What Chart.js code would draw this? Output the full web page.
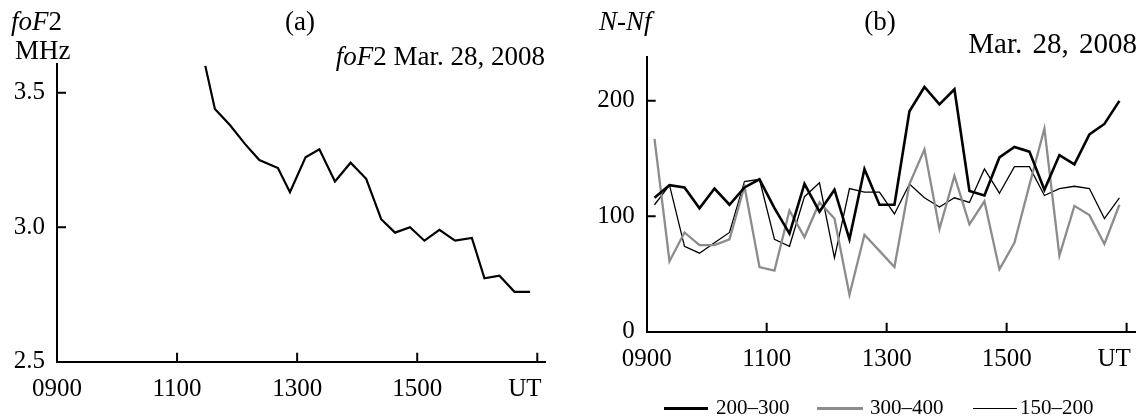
<!DOCTYPE html>
<html>
<head>
<meta charset="utf-8">
<script src="https://cdn.jsdelivr.net/npm/chart.js@4"></script>
<style>
  body { margin: 0; background: #fff; }
  #page { position: relative; width: 1140px; height: 419px; overflow: hidden;
          font-family: 'Liberation Serif', 'Times New Roman', serif; color: #000; }
  .box { position: absolute; top: 0; width: 570px; height: 419px; }
  .lbl { position: absolute; font-size: 27px; line-height: 27px; white-space: nowrap; }
  .ctr { transform: translateX(-50%); }
  .sw { position: absolute; }
  .lg { position: absolute; font-size: 21px; line-height: 21px; white-space: nowrap; }
</style>
</head>
<body>
<div id="page">
  <div class="box" style="left:0"><canvas id="chartA"></canvas></div>
  <div class="box" style="left:570px"><canvas id="chartB"></canvas></div>

  <div class="lbl" style="left:11px; top:8px"><i>foF</i>2</div>
  <div class="lbl" style="left:15px; top:37px">MHz</div>
  <div class="lbl ctr" style="left:300px; top:8px">(a)</div>
  <div class="lbl" style="right:595px; top:43px"><i>foF</i>2 Mar. 28, 2008</div>

  <div class="lbl" style="left:599px; top:8px"><i>N</i>-<i>Nf</i></div>
  <div class="lbl ctr" style="left:880px; top:8px">(b)</div>
  <div class="lbl" style="right:3px; top:29px; font-size:29px; line-height:29px; word-spacing:3px">Mar. 28, 2008</div>

  <div class="sw" style="left:664px; width:44px; top:406.5px; height:3px; background:#000"></div>
  <div class="lg" style="left:716px; top:397px">200–300</div>
  <div class="sw" style="left:817px; width:46px; top:407px; height:2.5px; background:#8c8c8c"></div>
  <div class="lg" style="left:870px; top:397px">300–400</div>
  <div class="sw" style="left:973px; width:44px; top:407.5px; height:1.5px; background:#000"></div>
  <div class="lg" style="left:1020px; top:397px">150–200</div>
</div>

<script>
// (a) foF2, MHz
const fofTimes = [11.47, 11.63, 11.88, 12.13, 12.37, 12.68, 12.88, 13.14, 13.37, 13.63, 13.89, 14.15,
                  14.40, 14.63, 14.88, 15.12, 15.37, 15.63, 15.91, 16.12, 16.37, 16.62, 16.88];
const fofValues = [3.60, 3.44, 3.38, 3.31, 3.25, 3.22, 3.13, 3.26, 3.29, 3.17, 3.24, 3.18,
                   3.03, 2.98, 3.00, 2.95, 2.99, 2.95, 2.96, 2.81, 2.82, 2.76, 2.76];

// (b) N-Nf
const nTimes = [9.13, 9.38, 9.63, 9.88, 10.13, 10.38, 10.63, 10.88, 11.13, 11.38, 11.63, 11.88,
                12.13, 12.38, 12.63, 12.88, 13.13, 13.38, 13.63, 13.88, 14.13, 14.38, 14.63, 14.88,
                15.13, 15.38, 15.63, 15.88, 16.13, 16.38, 16.63, 16.88];
const n200_300 = [116, 127, 125, 107, 124, 110, 125, 132, 107, 85, 128, 104, 123, 80, 141, 110,
                  110, 191, 212, 197, 210, 122, 118, 151, 160, 156, 123, 153, 145, 171, 180, 200];
const n300_400 = [167, 61, 86, 75, 75, 80, 126, 56, 53, 105, 82, 112, 98, 32, 84, 70,
                  56, 128, 158, 89, 135, 93, 113, 54, 77, 127, 176, 66, 109, 101, 76, 110];
const n150_200 = [110, 127, 74, 68, 77, 86, 130, 132, 80, 74, 117, 129, 64, 124, 121, 121,
                  102, 128, 116, 108, 116, 112, 141, 120, 143, 143, 118, 124, 126, 124, 98, 116];

// ticks
const xTickValues = [9, 11, 13, 15, 17];
const xTickLabels = ['0900', '1100', '1300', '1500', 'UT\u2002\u2002'];
const fofTickValues = [2.5, 3.0, 3.5];
const nTickValues = [0, 100, 200];

Chart.defaults.font.family = "'Liberation Serif', 'Times New Roman', serif";
Chart.defaults.color = '#000';

const toPoints = (xs, ys) => xs.map((x, i) => ({ x: x, y: ys[i] }));

// small inward tick marks on both axes
const inwardTicks = {
	id: 'inwardTicks',
	afterDraw(chart) {
		const { ctx, chartArea: a, scales: { x, y } } = chart;
		ctx.save();
		ctx.strokeStyle = '#000';
		ctx.lineWidth = 2;
		ctx.beginPath();
		x.ticks.forEach(t => {
			const px = x.getPixelForValue(t.value);
			if (px > a.left + 2) { ctx.moveTo(px, a.bottom); ctx.lineTo(px, a.bottom - 9); }
		});
		y.ticks.forEach(t => {
			const py = y.getPixelForValue(t.value);
			if (py < a.bottom - 2) { ctx.moveTo(a.left, py); ctx.lineTo(a.left + 9, py); }
		});
		ctx.stroke();
		ctx.restore();
	}
};

function xScale(axisHeight) {
	return {
		type: 'linear',
		min: 9,
		max: 17.14,
		afterBuildTicks: s => { s.ticks = xTickValues.map(v => ({ value: v })); },
		afterFit: s => { s.height = axisHeight; s.paddingLeft = 0; s.paddingRight = 0; },
		grid: { display: false },
		border: { display: true, color: '#000', width: 2 },
		ticks: {
			font: { size: 25 },
			padding: 5,
			maxRotation: 0,
			autoSkip: false,
			callback: v => xTickLabels[xTickValues.indexOf(v)]
		}
	};
}

function yScale(min, max, tickValues, axisWidth, fmt) {
	return {
		type: 'linear',
		min: min,
		max: max,
		afterBuildTicks: s => { s.ticks = tickValues.map(v => ({ value: v })); },
		afterFit: s => { s.width = axisWidth; s.paddingTop = 0; s.paddingBottom = 0; },
		grid: { display: false },
		border: { display: true, color: '#000', width: 2 },
		ticks: { font: { size: 25 }, padding: 4, callback: fmt }
	};
}

new Chart(document.getElementById('chartA'), {
	type: 'line',
	data: {
		datasets: [{
			label: 'foF2',
			data: toPoints(fofTimes, fofValues),
			borderColor: '#000',
			borderWidth: 2.2,
			pointRadius: 0,
			tension: 0
		}]
	},
	options: {
		responsive: true,
		maintainAspectRatio: false,
		animation: false,
		layout: { padding: { top: 64, right: 24.3, left: 0, bottom: 0 } },
		plugins: { legend: { display: false }, tooltip: { enabled: false } },
		scales: {
			x: xScale(419 - 361.7),
			y: yScale(2.5, 3.607, fofTickValues, 57, v => v.toFixed(1))
		}
	},
	plugins: [inwardTicks]
});

new Chart(document.getElementById('chartB'), {
	type: 'line',
	data: {
		datasets: [
			{
				label: '200–300',
				data: toPoints(nTimes, n200_300),
				borderColor: '#000',
				borderWidth: 2.6,
				pointRadius: 0,
				tension: 0
			},
			{
				label: '300–400',
				data: toPoints(nTimes, n300_400),
				borderColor: '#8c8c8c',
				borderWidth: 2.3,
				pointRadius: 0,
				tension: 0
			},
			{
				label: '150–200',
				data: toPoints(nTimes, n150_200),
				borderColor: '#000',
				borderWidth: 1.3,
				pointRadius: 0,
				tension: 0
			}
		]
	},
	options: {
		responsive: true,
		maintainAspectRatio: false,
		animation: false,
		layout: { padding: { top: 57, right: 5, left: 0, bottom: 0 } },
		plugins: { legend: { display: false }, tooltip: { enabled: false } },
		scales: {
			x: xScale(419 - 331.7),
			y: yScale(0, 238, nTickValues, 76.7, v => String(v))
		}
	},
	plugins: [inwardTicks]
});
</script>
</body>
</html>
